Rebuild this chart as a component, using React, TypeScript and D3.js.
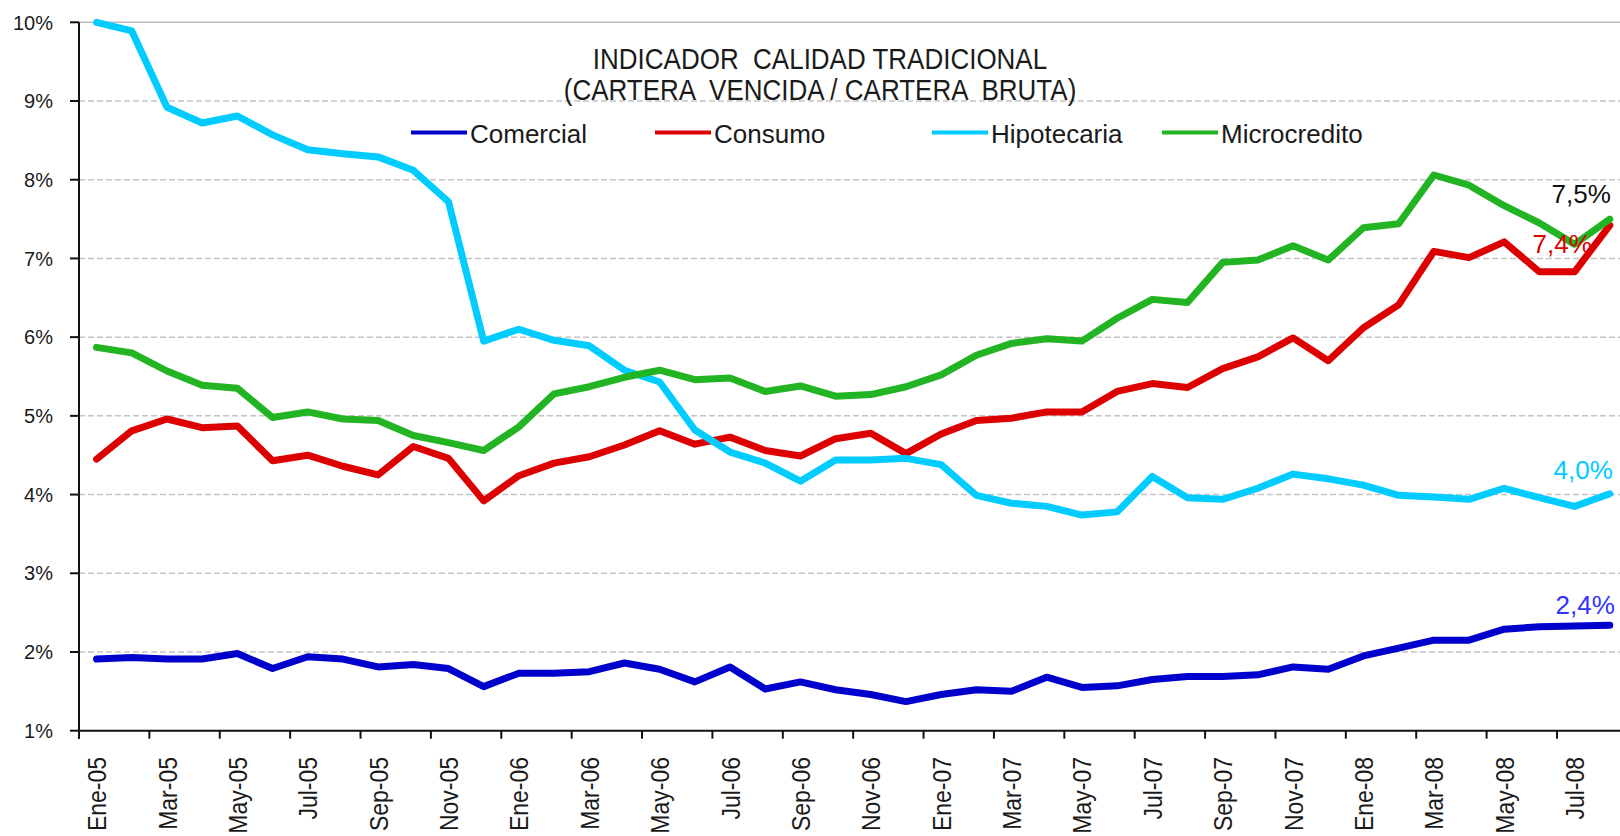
import React from 'react';
import * as d3 from 'd3';

const months = [
  'Ene-05','Feb-05','Mar-05','Abr-05','May-05','Jun-05','Jul-05','Ago-05','Sep-05','Oct-05','Nov-05','Dic-05',
  'Ene-06','Feb-06','Mar-06','Abr-06','May-06','Jun-06','Jul-06','Ago-06','Sep-06','Oct-06','Nov-06','Dic-06',
  'Ene-07','Feb-07','Mar-07','Abr-07','May-07','Jun-07','Jul-07','Ago-07','Sep-07','Oct-07','Nov-07','Dic-07',
  'Ene-08','Feb-08','Mar-08','Abr-08','May-08','Jun-08','Jul-08','Ago-08'
];

const comercial = [1.91,1.93,1.91,1.91,1.98, 1.79,1.94,1.91,1.81,1.84, 1.79,1.56,1.73,1.73,1.75, 1.86,1.78,1.62,1.81,1.53, 1.62,1.52,1.46,1.37,1.46, 1.52,1.50,1.68,1.55,1.57, 1.65,1.69,1.69,1.71,1.81, 1.78,1.95,2.05,2.15,2.15, 2.29,2.32,2.33,2.34];
const consumo = [4.45,4.81,4.96,4.85,4.87, 4.43,4.50,4.36,4.25,4.61, 4.46,3.92,4.24,4.40,4.48, 4.63,4.81,4.64,4.73,4.56, 4.49,4.71,4.78,4.52,4.77, 4.94,4.97,5.05,5.05,5.31, 5.41,5.36,5.60,5.75,5.99, 5.70,6.12,6.41,7.09,7.01, 7.21,6.83,6.83,7.42];
const hipotecaria = [10.0,9.89,8.92,8.72,8.81, 8.57,8.38,8.33,8.29,8.12, 7.72,5.95,6.10,5.96,5.89, 5.58,5.43,4.82,4.54,4.40, 4.17,4.44,4.44,4.46,4.38, 3.99,3.89,3.85,3.74,3.78, 4.23,3.96,3.94,4.08,4.26, 4.20,4.12,3.99,3.97,3.94, 4.08,3.96,3.85,4.01];
const microcredito = [5.87,5.80,5.57,5.39,5.35, 4.98,5.05,4.96,4.94,4.75, 4.66,4.56,4.86,5.28,5.37, 5.49,5.58,5.46,5.48,5.31, 5.38,5.25,5.27,5.37,5.52, 5.77,5.92,5.98,5.95,6.24, 6.48,6.44,6.95,6.98,7.16, 6.98,7.39,7.44,8.06,7.93, 7.67,7.45,7.18,7.50];

const seriesNames = ['Comercial', 'Consumo', 'Hipotecaria', 'Microcredito'];
const seriesColors = ['#0000CC', '#DD0000', '#00CCFF', '#22B422'];
const endLabels = ['2,4%', '7,4%', '4,0%', '7,5%'];
const endLabelColors = ['#3333FF', '#DD0000', '#00CCFF', '#111111'];
const yTicks = [1, 2, 3, 4, 5, 6, 7, 8, 9, 10];
const titleLines = ['INDICADOR  CALIDAD TRADICIONAL', '(CARTERA  VENCIDA / CARTERA  BRUTA)'];

const FONT = '"Liberation Sans", Arial, sans-serif';

export default function App() {
  const W = 1620, H = 836;
  const left = 79;
  const step = 35.19;
  const x = d3.scaleBand<string>().domain(months).range([left, left + months.length * step]).padding(0);
  const y = d3.scaleLinear().domain([1, 10]).range([730.7, 22.3]);
  const cx = (i: number) => (x(months[i]) as number) + x.bandwidth() / 2;
  const line = d3.line<number>().x((_, i) => cx(i)).y(d => y(d));
  const data = [comercial, consumo, hipotecaria, microcredito];
  const x0 = y(1);
  const last = months.length - 1;

  // end label placement offsets relative to last point [dx, dy]
  const labelOffsets: [number, number][] = [[5, -11], [-18, 28], [3, -15], [1, -16]];

  const legendX = [411, 655, 932, 1162];
  const legendY = 132.5;

  return (
    <svg width={W} height={H} style={{ position: 'absolute', left: 0, top: 0, background: '#fff' }} fontFamily={FONT}>
      <rect x={0} y={0} width={W} height={H} fill="#fff" />
      {/* gridlines */}
      {yTicks.filter(t => t > 1 && t < 10).map(t => (
        <line key={t} x1={left} x2={W} y1={y(t)} y2={y(t)} stroke="#c4c4c4" strokeWidth={1.5} strokeDasharray="6,3" />
      ))}
      <line x1={left} x2={W} y1={y(10)} y2={y(10)} stroke="#bdbdbd" strokeWidth={1.5} />

      {/* title */}
      {titleLines.map((t, i) => (
        <text key={i} transform={`translate(820,${[69, 100][i]}) scale(1,1.15)`} textAnchor="middle" fontSize={26} fill="#1a1a1a" style={{ whiteSpace: 'pre' }}>{t}</text>
      ))}

      {/* legend */}
      {seriesNames.map((n, i) => (
        <g key={n}>
          <line x1={legendX[i]} x2={legendX[i] + 56} y1={legendY} y2={legendY} stroke={seriesColors[i]} strokeWidth={4} />
          <text x={legendX[i] + 59} y={142.5} fontSize={26} fill="#1a1a1a">{n}</text>
        </g>
      ))}

      {/* series */}
      {data.map((d, i) => (
        <path key={i} d={line(d) || ''} fill="none" stroke={seriesColors[i]} strokeWidth={7} strokeLinejoin="round" strokeLinecap="round" />
      ))}

      {/* end labels */}
      {data.map((d, i) => (
        <text key={i} x={cx(last) + labelOffsets[i][0]} y={y(d[last]) + labelOffsets[i][1]} textAnchor="end" fontSize={26} fill={endLabelColors[i]}>{endLabels[i]}</text>
      ))}

      {/* axes */}
      <line x1={left} x2={left} y1={y(10)} y2={x0 + 8} stroke="#111" strokeWidth={2} />
      <line x1={left - 1} x2={W} y1={x0} y2={x0} stroke="#111" strokeWidth={2} />
      {yTicks.map(t => (
        <g key={t}>
          <line x1={left - 9} x2={left} y1={y(t)} y2={y(t)} stroke="#111" strokeWidth={2} />
          <text x={53} y={y(t)} dy="0.36em" textAnchor="end" fontSize={20} fill="#1a1a1a">{`${t}%`}</text>
        </g>
      ))}
      {months.map((m, i) => i % 2 === 0 ? (
        <g key={m}>
          <line x1={x(m) as number} x2={x(m) as number} y1={x0} y2={x0 + 8} stroke="#111" strokeWidth={2} />
          <text transform={`translate(${cx(i)},757) rotate(-90) scale(1,1.15)`} textAnchor="end" dy="0.36em" fontSize={23} fill="#1a1a1a">{m}</text>
        </g>
      ) : null)}
    </svg>
  );
}
